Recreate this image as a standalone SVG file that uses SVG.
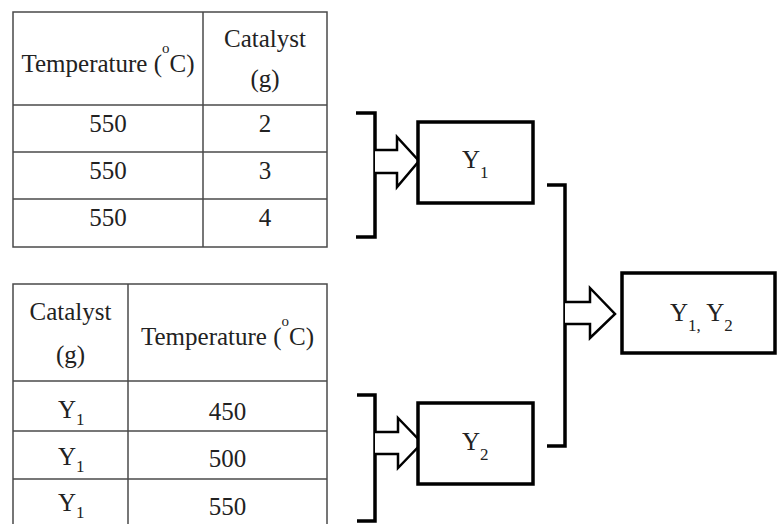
<svg xmlns="http://www.w3.org/2000/svg" width="777" height="524" viewBox="0 0 777 524">
<style>
text{font-family:'Liberation Serif','Times New Roman','DejaVu Serif',serif;font-size:25px;fill:#222;}
.c{text-anchor:middle;}
.sub{font-size:17px;}
.sup{font-size:15px;}
.grid{stroke:#4a4a4a;stroke-width:1.5;fill:none;}
.bk{stroke:#000;stroke-width:3.5;fill:none;stroke-linecap:butt;}
.box{stroke:#000;stroke-width:3.5;fill:#fff;}
.arr{stroke:#000;stroke-width:2.5;fill:#fff;stroke-linejoin:miter;}
</style>
<rect width="777" height="524" fill="#fff"/>
<g id="table1" font-family="Liberation Serif, Times New Roman, serif">
<rect class="grid" x="13" y="12" width="314" height="235"/>
<line class="grid" x1="203" y1="12" x2="203" y2="247"/>
<line class="grid" x1="13" y1="105" x2="327" y2="105"/>
<line class="grid" x1="13" y1="152" x2="327" y2="152"/>
<line class="grid" x1="13" y1="199" x2="327" y2="199"/>
<text class="c" x="108" y="72">Temperature (<tspan class="sup" dy="-19">o</tspan><tspan dy="19">C)</tspan></text>
<text class="c" x="265" y="47">Catalyst</text>
<text class="c" x="265" y="87">(g)</text>
<text class="c" x="108" y="132">550</text>
<text class="c" x="265" y="132">2</text>
<text class="c" x="108" y="179">550</text>
<text class="c" x="265" y="179">3</text>
<text class="c" x="108" y="226">550</text>
<text class="c" x="265" y="226">4</text>
</g>
<g id="table2" font-family="Liberation Serif, Times New Roman, serif">
<rect class="grid" x="13" y="284" width="314" height="245"/>
<line class="grid" x1="128" y1="284" x2="128" y2="529"/>
<line class="grid" x1="13" y1="381" x2="327" y2="381"/>
<line class="grid" x1="13" y1="431" x2="327" y2="431"/>
<line class="grid" x1="13" y1="479" x2="327" y2="479"/>
<text class="c" x="70.5" y="320">Catalyst</text>
<text class="c" x="70.5" y="363">(g)</text>
<text class="c" x="227.5" y="345">Temperature (<tspan class="sup" dy="-19">o</tspan><tspan dy="19">C)</tspan></text>
<text x="58" y="418">Y<tspan class="sub" dy="7">1</tspan></text>
<text class="c" x="227.5" y="420">450</text>
<text x="58" y="465">Y<tspan class="sub" dy="7">1</tspan></text>
<text class="c" x="227.5" y="467">500</text>
<text x="58" y="511">Y<tspan class="sub" dy="7">1</tspan></text>
<text class="c" x="227.5" y="515">550</text>
</g>
<g id="connectors">
<path class="bk" d="M356,113 H375 V237 H356"/>
<path class="bk" d="M357,395 H375 V521 H357"/>
<path class="bk" d="M547,185 H565 V446 H547"/>
<path class="arr" d="M375,150 H397 V137 L419,161 L397,187 V173 H375"/>
<path class="arr" d="M375,432 H398 V418 L422,443 L398,468 V454 H375"/>
<path class="arr" d="M565,302 H590 V288 L615,314 L590,338 V324 H565"/>
</g>
<g id="nodeY1" font-family="Liberation Serif, Times New Roman, serif">
<rect class="box" x="418" y="122" width="115" height="81"/>
<text x="462" y="168">Y<tspan class="sub" dy="10">1</tspan></text>
</g>
<g id="nodeY2" font-family="Liberation Serif, Times New Roman, serif">
<rect class="box" x="418" y="403" width="115" height="81"/>
<text x="462" y="450">Y<tspan class="sub" dy="10">2</tspan></text>
</g>
<g id="nodeY1Y2" font-family="Liberation Serif, Times New Roman, serif">
<rect class="box" x="622" y="273" width="153" height="80"/>
<text x="670" y="321">Y<tspan class="sub" dy="10">1,</tspan><tspan dy="-10"> Y</tspan><tspan class="sub" dy="10">2</tspan></text>
</g>
</svg>
